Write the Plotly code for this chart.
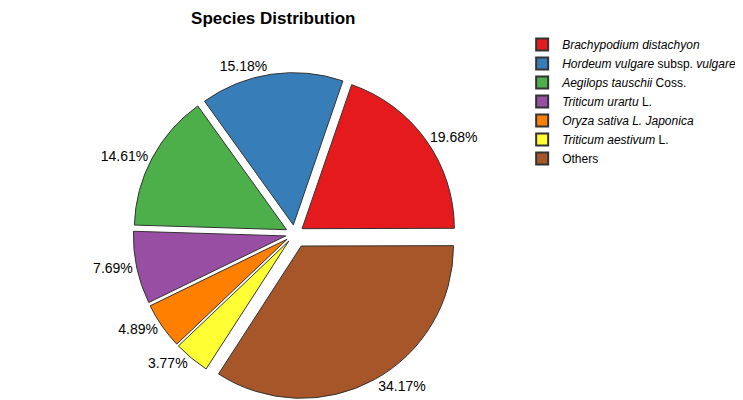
import plotly.graph_objects as go

species = [
    "<i>Brachypodium distachyon</i>",
    "<i>Hordeum vulgare</i> subsp. <i>vulgare</i>",
    "<i>Aegilops tauschii</i> Coss.",
    "<i>Triticum urartu</i> L.",
    "<i>Oryza sativa L. Japonica</i>",
    "<i>Triticum aestivum</i> L.",
    "Others",
]
percent = [19.68, 15.18, 14.61, 7.69, 4.89, 3.77, 34.17]
colors = ["#E41A1C", "#377EB8", "#4DAF4A", "#984EA3", "#FF7F00", "#FFFF33", "#A65628"]
explode = [0.06, 0.06, 0.06, 0.06, 0.06, 0.06, 0.09]

fig = go.Figure(go.Pie(
    labels=species,
    values=percent,
    sort=False,
    direction="counterclockwise",
    rotation=19,
    pull=explode,
    marker=dict(colors=colors, line=dict(color="#333333", width=1)),
    texttemplate="%{value:.2f}%",
    textposition="outside",
    textfont=dict(size=14, color="black"),
    hoverinfo="label+value",
    domain=dict(x=[0.04, 0.72], y=[0.0, 0.93]),
))

fig.update_layout(
    width=743, height=400,
    font=dict(family="Arial, Liberation Sans, sans-serif", color="black"),
    title=dict(text="<b>Species Distribution</b>", x=0.357, xanchor="center",
               y=0.99, yanchor="top", font=dict(size=17)),
    legend=dict(xref="container", yref="container", x=0.692, y=0.945,
                xanchor="left", yanchor="top",
                font=dict(size=12), itemsizing="constant",
                tracegroupgap=0),
    margin=dict(l=10, r=5, t=35, b=8, autoexpand=False),
    paper_bgcolor="white",
)

fig.write_html("out.html")
